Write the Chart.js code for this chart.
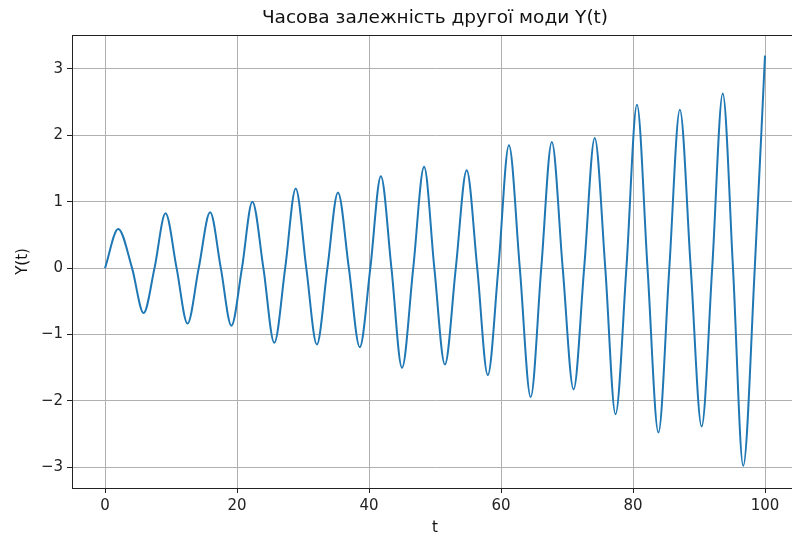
<!DOCTYPE html>
<html>
<head>
<meta charset="utf-8">
<script src="https://cdn.jsdelivr.net/npm/chart.js@4"></script>
<style>
  html, body { margin: 0; padding: 0; background: #fff; overflow: hidden; }
  #wrap { width: 792px; height: 538px; overflow: hidden; }
</style>
</head>
<body>
<div id="wrap"><canvas id="myChart" width="800" height="538"></canvas></div>
<script>
// peaks, troughs and zero crossings
const tValues = [0, 2.0, 4.1, 5.85, 7.5, 9.17, 10.85, 12.5, 14.2, 15.93, 17.55, 19.15, 20.75, 22.33,
  24.0, 25.65, 27.3, 28.9, 30.5, 32.1, 33.7, 35.3, 36.95, 38.6, 40.2, 41.8, 43.4, 45.0, 46.7, 48.35,
  49.9, 51.5, 53.15, 54.8, 56.4, 58.0, 59.6, 61.2, 62.85, 64.5, 66.1, 67.7, 69.35, 71.0, 72.6, 74.2,
  75.8, 77.35, 79.0, 80.6, 82.2, 83.85, 85.5, 87.1, 88.75, 90.4, 92.0, 93.6, 95.15, 96.7, 98.45, 100];
const yValues = [0, 0.59, 0, -0.675, 0, 0.825, 0, -0.835, 0, 0.84, 0, -0.866, 0, 1.0,
  0, -1.125, 0, 1.2, 0, -1.15, 0, 1.14, 0, -1.19, 0, 1.385, 0, -1.5, 0, 1.525,
  0, -1.45, 0, 1.475, 0, -1.61, 0, 1.85, 0, -1.94, 0, 1.9, 0, -1.825, 0, 1.96,
  0, -2.2, 0, 2.46, 0, -2.475, 0, 2.385, 0, -2.385, 0, 2.63, 0, -2.975, 0, 3.2];
const xTicks = [0, 20, 40, 60, 80, 100];
const yTicks = [-3, -2, -1, 0, 1, 2, 3];

const titleText = 'Часова залежність другої моди Y(t)';
const font = 'DejaVu Sans';

const minus = v => (v < 0 ? '\u2212' + Math.abs(v) : String(v));

// matplotlib draws a frame round the axes
const frame = {
  id: 'frame',
  afterDatasetsDraw(chart) {
    const { ctx, chartArea: a } = chart;
    ctx.save();
    ctx.strokeStyle = '#222';
    ctx.lineWidth = 1;
    ctx.strokeRect(a.left + 0.5, a.top + 0.5, a.right - a.left - 1, a.bottom - a.top);
    ctx.restore();
  }
};

const data = {
  datasets: [{
    data: tValues.map((t, i) => ({ x: t, y: yValues[i] })),
    borderColor: '#1f77b4',
    borderWidth: 2,
    pointRadius: 0,
    cubicInterpolationMode: 'monotone',
    fill: false
  }]
};

const config = {
  type: 'line',
  data,
  plugins: [frame],
  options: {
    responsive: false,
    animation: false,
    layout: { padding: { left: 0, right: 2, top: 0, bottom: 0 } },
    plugins: {
      legend: { display: false },
      tooltip: { enabled: false },
      title: {
        display: true,
        text: titleText,
        fullSize: false,
        color: '#111',
        font: { family: font, size: 18.5, weight: 'normal' },
        padding: { top: 6.9, bottom: 5.9 }
      }
    },
    scales: {
      x: {
        type: 'linear',
        min: -5,
        max: 105,
        afterBuildTicks: s => { s.ticks = xTicks.map(v => ({ value: v })); },
        afterFit: s => { s.height = 50; },
        ticks: {
          color: '#222',
          font: { family: font, size: 15 },
          padding: 4,
          maxRotation: 0,
          callback: v => minus(v)
        },
        grid: { color: '#b0b0b0', lineWidth: 1, tickColor: '#222', tickLength: 5 },
        border: { color: '#222', width: 1 },
        title: {
          display: true,
          text: 't',
          color: '#111',
          font: { family: font, size: 15 },
          padding: { top: 0, bottom: 1 }
        }
      },
      y: {
        min: -3.31,
        max: 3.51,
        afterBuildTicks: s => { s.ticks = yTicks.map(v => ({ value: v })); },
        afterFit: s => { s.width = 72; },
        ticks: {
          color: '#222',
          font: { family: font, size: 15 },
          padding: 4,
          callback: v => minus(v)
        },
        grid: { color: '#b0b0b0', lineWidth: 1, tickColor: '#222', tickLength: 5 },
        border: { color: '#222', width: 1 },
        title: {
          display: true,
          text: 'Y(t)',
          color: '#111',
          font: { family: font, size: 15 },
          padding: { top: 14, bottom: 0 }
        }
      }
    }
  }
};

new Chart(document.getElementById('myChart'), config);
</script>
</body>
</html>
